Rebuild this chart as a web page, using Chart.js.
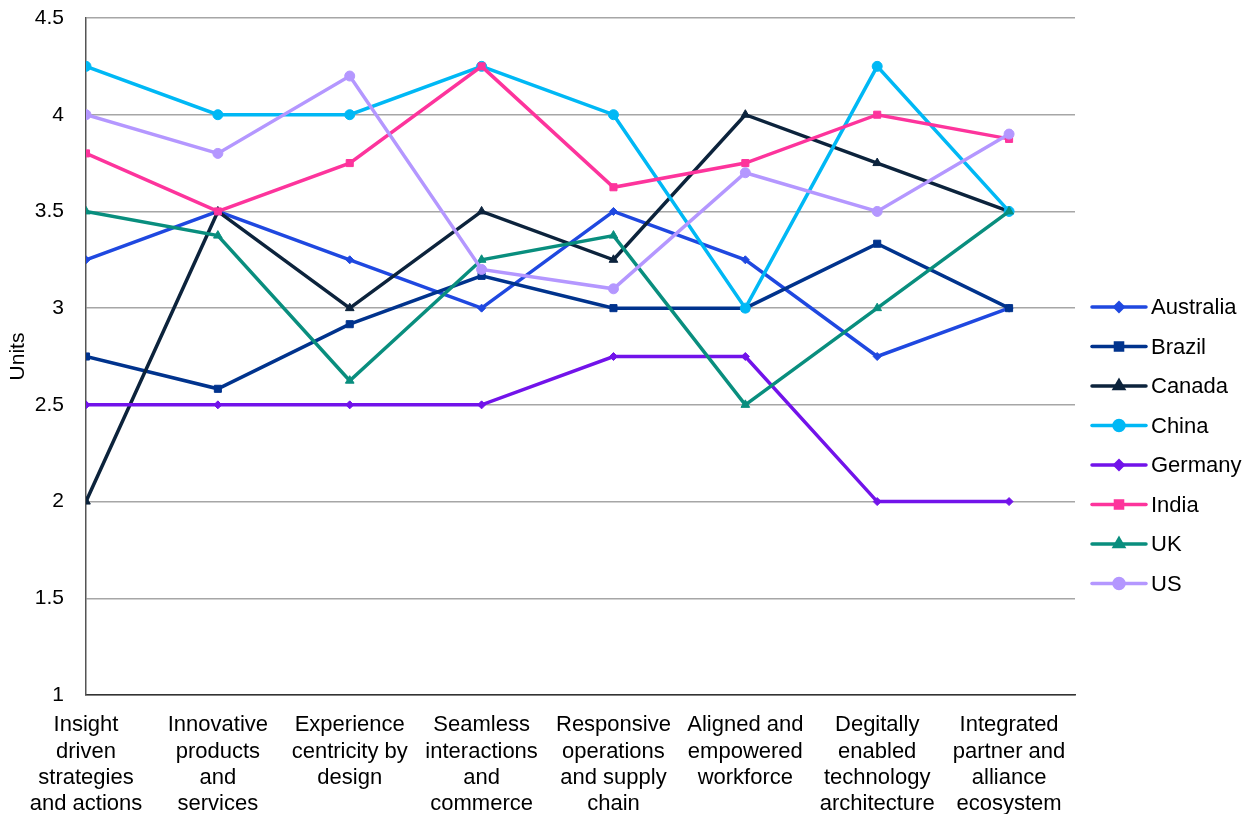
<!DOCTYPE html>
<html>
<head>
<meta charset="utf-8">
<script src="https://cdn.jsdelivr.net/npm/chart.js@4/dist/chart.umd.min.js"></script>
<style>
  html, body { margin: 0; padding: 0; background: #fff; }
  #wrap { width: 1258px; height: 814px; }
</style>
</head>
<body>
<div id="wrap"><canvas id="capChart"></canvas></div>
<script>
/* ---------- Data ---------- */
const categories = [
  ['Insight', 'driven', 'strategies', 'and actions'],
  ['Innovative', 'products', 'and', 'services'],
  ['Experience', 'centricity by', 'design'],
  ['Seamless', 'interactions', 'and', 'commerce'],
  ['Responsive', 'operations', 'and supply', 'chain'],
  ['Aligned and', 'empowered', 'workforce'],
  ['Degitally', 'enabled', 'technology', 'architecture'],
  ['Integrated', 'partner and', 'alliance', 'ecosystem']
];
const countries = ['Australia', 'Brazil', 'Canada', 'China', 'Germany', 'India', 'UK', 'US'];

const australia = [3.25, 3.5, 3.25, 3.0, 3.5, 3.25, 2.75, 3.0];
const brazil    = [2.75, 2.583, 2.917, 3.167, 3.0, 3.0, 3.333, 3.0];
const canada    = [2.0, 3.5, 3.0, 3.5, 3.25, 4.0, 3.75, 3.5];
const china     = [4.25, 4.0, 4.0, 4.25, 4.0, 3.0, 4.25, 3.5];
const germany   = [2.5, 2.5, 2.5, 2.5, 2.75, 2.75, 2.0, 2.0];
const india     = [3.8, 3.5, 3.75, 4.25, 3.625, 3.75, 4.0, 3.875];
const uk        = [3.5, 3.375, 2.625, 3.25, 3.375, 2.5, 3.0, 3.5];
const us        = [4.0, 3.8, 4.2, 3.2, 3.1, 3.7, 3.5, 3.9];

const yTicks = [1, 1.5, 2, 2.5, 3, 3.5, 4, 4.5];

/* ---------- Styles ---------- */
const seriesValues = [australia, brazil, canada, china, germany, india, uk, us];
const colors = ['#1f48e0', '#00338d', '#0c233c', '#00b8f5', '#7213ea', '#fd349c', '#098e7e', '#b497ff'];
const markers = ['rectRot', 'rect', 'triangle', 'circle', 'rectRot', 'rect', 'triangle', 'circle'];
const markerSize = [4, 5, 5, 5, 4, 5, 5, 5];
const FONT = "'Liberation Sans', Arial, sans-serif";

const datasets = countries.map((name, i) => ({
  label: name,
  data: seriesValues[i].map((v, j) => ({ x: j, y: v })),
  borderColor: colors[i],
  backgroundColor: colors[i],
  borderWidth: 3.5,
  pointStyle: markers[i],
  pointRadius: markerSize[i],
  pointBorderWidth: 1,
  tension: 0,
  order: countries.length - i
}));

/* ---------- Right-hand legend: line sample with marker ---------- */
const sideLegend = {
  id: 'sideLegend',
  afterDraw(chart) {
    const ctx = chart.ctx;
    const x0 = chart.chartArea.right + 17;
    const lineLen = 54;
    const top = 307, rowH = 39.5;
    ctx.save();
    chart.data.datasets.forEach((ds, i) => {
      const y = top + i * rowH;
      ctx.strokeStyle = ds.borderColor;
      ctx.lineWidth = 3.5;
      ctx.lineCap = 'round';
      ctx.beginPath();
      ctx.moveTo(x0, y);
      ctx.lineTo(x0 + lineLen, y);
      ctx.stroke();
      ctx.fillStyle = ds.backgroundColor;
      Chart.helpers.drawPoint(ctx, {
        pointStyle: ds.pointStyle, radius: ds.pointRadius, rotation: 0, borderWidth: 1
      }, x0 + lineLen / 2, y);
      ctx.fillStyle = '#000';
      ctx.font = '22px ' + FONT;
      ctx.textAlign = 'left';
      ctx.textBaseline = 'middle';
      ctx.fillText(ds.label, x0 + lineLen + 5, y + 1);
    });
    ctx.restore();
  }
};

new Chart(document.getElementById('capChart'), {
  type: 'line',
  data: { datasets },
  plugins: [sideLegend],
  options: {
    responsive: true, maintainAspectRatio: false, animation: false,
    layout: { padding: { top: 18, right: 183, bottom: 0, left: 0 } },
    plugins: { legend: { display: false }, tooltip: { enabled: false } },
    scales: {
      x: {
        type: 'linear', min: 0, max: 7.5,
        grid: { display: false, drawTicks: false },
        border: { display: true, color: '#333', width: 1.5 },
        ticks: {
          stepSize: 1, autoSkip: false, maxRotation: 0, padding: 17,
          color: '#000', font: { family: FONT, size: 22, lineHeight: 1.2 },
          callback: v => Number.isInteger(v) && categories[v] ? categories[v] : null
        },
        afterFit: axis => { axis.height = 119; axis.paddingLeft = 0; axis.paddingRight = 0; }
      },
      y: {
        min: yTicks[0], max: yTicks[yTicks.length - 1],
        afterBuildTicks: axis => { axis.ticks = yTicks.map(v => ({ value: v })); },
        grid: { color: '#a6a6a6', lineWidth: 1.5, drawTicks: false },
        border: { display: true, color: '#555', width: 1.5 },
        ticks: { color: '#000', padding: 22, font: { family: FONT, size: 21 }, callback: v => String(v) },
        title: { display: true, text: 'Units', color: '#000', font: { family: FONT, size: 21 }, padding: { top: 6, bottom: 0 } },
        afterFit: axis => { axis.width = 86; axis.paddingTop = 0; axis.paddingBottom = 0; }
      }
    }
  }
});
</script>
</body>
</html>
